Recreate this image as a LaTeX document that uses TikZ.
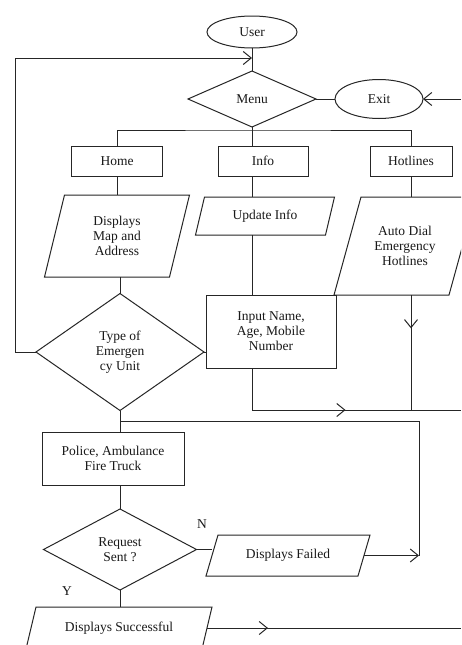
\documentclass[tikz,border=0pt]{standalone}
\usepackage{fontspec}
\setmainfont{Liberation Serif}
\usetikzlibrary{shapes.geometric,arrows.meta,decorations.markings,calc}
\newcommand{\myparabox}[6]{%
  \node[ptext, minimum width=#3pt, minimum height=#4pt] (#1) at #2 {#6};
  \draw[ln] ([xshift=#5pt/2]#1.north west) -- ([xshift=#5pt/2]#1.north east)
    -- ([xshift=-#5pt/2]#1.south east) -- ([xshift=-#5pt/2]#1.south west) -- cycle;}
\begin{document}
\begin{tikzpicture}[x=1pt,y=-1pt,
  every node/.style={font=\fontsize{13.5}{15}\selectfont, text=black!90},
  ln/.style={draw=black!85, line width=1pt},
  tip/.style={-{Straight Barb[length=8pt,width=13pt]}},
  midarrow/.style={postaction={decorate},decoration={markings,mark=at position #1 with {\arrow{Straight Barb[length=8pt,width=13pt]}}}},
  box/.style={draw=black!85, line width=1pt, rectangle, align=center, inner sep=0pt, outer sep=0pt},
  oval/.style={draw=black!85, line width=1pt, ellipse, inner sep=0pt, outer sep=0pt},
  dia/.style={draw=black!85, line width=1pt, diamond, align=center, inner sep=0pt, outer sep=0pt},
  ptext/.style={rectangle, align=center, inner sep=0pt, outer sep=0pt},
]
\clip (0,0) rectangle (461,645);
\fill[white] (0,0) rectangle (461,645);

% nodes
\node[oval, minimum width=90pt, minimum height=32pt] (user) at (252,32) {User};
\node[dia, minimum width=128pt, minimum height=56pt] (menu) at (252,99) {Menu};
\node[oval, minimum width=88pt, minimum height=39pt] (exit) at (379,99) {Exit};
\node[box, minimum width=91pt, minimum height=30pt] (home) at (117,161) {Home};
\node[box, minimum width=90pt, minimum height=30pt] (info) at (263,161) {Info};
\node[box, minimum width=82pt, minimum height=30pt] (hotl) at (411,161) {Hotlines};
\myparabox{map}{(117,236)}{125}{82}{20}{Displays\\Map and\\Address}
\myparabox{upd}{(265,216)}{130}{38}{9}{Update Info}
\myparabox{auto}{(405,246)}{115}{98}{27}{Auto Dial\\Emergency\\Hotlines}
\node[dia, minimum width=168pt, minimum height=117pt] (type) at (120,352) {Type of\\Emergen\\cy Unit};
\node[box, minimum width=130pt, minimum height=73pt] (input) at (271,331.5) {Input Name,\\Age, Mobile\\Number};
\node[box, minimum width=142pt, minimum height=53pt] (police) at (113,458.5) {Police, Ambulance\\Fire Truck};
\node[dia, minimum width=153pt, minimum height=81pt] (req) at (120,549.5) {Request\\Sent ?};
\myparabox{failed}{(288,555.5)}{152}{41}{12}{Displays Failed}
\myparabox{succ}{(119,628)}{176}{42}{10}{Displays Successful}
\node (nlab) at (202,524) {N};
\node (ylab) at (67,591) {Y};

% helper coordinates
\coordinate (lx) at (15,58);
\coordinate (j1) at (252,58);
\coordinate (br) at (252,130);
\coordinate (er) at (461,99);
\coordinate (rr) at (461,410);
\coordinate (fj) at (419,421);
\coordinate (fx) at (419,555.5);
\coordinate (sr) at (461,628);

% connectors
\draw[ln] (user) -- (menu);
\draw[ln,tip] (type.west) -| (lx) -- (j1);
\draw[ln] (menu.east) -- (exit.west);
\draw[ln,tip] (er) -- (exit.east);
\draw[ln] (menu.south) -- (br);
\draw[ln] (home.north) |- (br) -| (hotl.north);
\draw[ln] (br) -- (br |- info.north);
\draw[ln] (home.south) -- (home.south |- map.north);
\draw[ln] (info.south -| br) -- (upd.north -| br);
\draw[ln] (upd.south -| br) -- (input.north -| br);
\draw[ln] (hotl.south) -- (hotl.south |- auto.north);
\draw[ln] (map.south -| type.north) -- (type.north);
\draw[ln] (type.east) -- (type.east -| input.west);
\draw[ln, midarrow=0.29] (auto.south -| hotl.south) -- (hotl.south |- rr);
\draw[ln, midarrow=0.54] (input.south -| br) |- (rr);
\draw[ln] (type.south) -- (type.south |- police.north);
\draw[ln] (type.south |- fj) -- (fj) -- (fx);
\draw[ln,tip] (failed.east) -- (fx);
\draw[ln] (police.south -| req.north) -- (req.north);
\draw[ln] (req.east) -- (req.east -| failed.west);
\draw[ln] (req.south) -- (req.south |- succ.north);
\draw[ln, midarrow=0.24] (succ.east) -- (sr);
\end{tikzpicture}
\end{document}
